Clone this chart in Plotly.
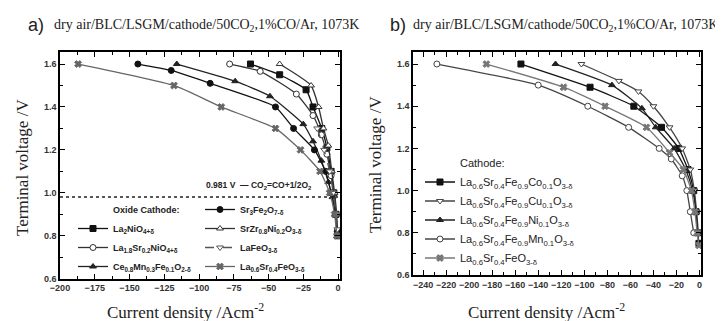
import plotly.graph_objects as go

# The page body has an 8px margin, so the figure is drawn at (8, 8)
OFF = 8
W, H = 723 - OFF, 321 - OFF
def px(x): return (x - OFF) / W
def py(y): return 1 - (y - OFF) / H

# ---------------- Panel a data ----------------
a_La2NiO4_x = [-63, -42, -23, -18, -11.7, -8, -5, -3, -1.5, -0.5]
a_La2NiO4_y = [1.60, 1.55, 1.48, 1.40, 1.30, 1.21, 1.10, 1.00, 0.90, 0.80]
a_La18Sr02_x = [-78, -56, -30, -18, -12, -8, -5, -3, -1.5, -0.5]
a_La18Sr02_y = [1.60, 1.566, 1.46, 1.36, 1.27, 1.18, 1.08, 1.00, 0.90, 0.82]
a_Ce_x = [-116, -74, -49, -25, -18, -12, -7, -4, -2, -0.5]
a_Ce_y = [1.60, 1.52, 1.45, 1.32, 1.24, 1.15, 1.05, 0.98, 0.90, 0.80]
a_Sr3Fe2O7_x = [-144, -120, -92, -45, -32, -17, -9, -5, -2, -0.5]
a_Sr3Fe2O7_y = [1.60, 1.57, 1.51, 1.40, 1.30, 1.20, 1.10, 1.00, 0.90, 0.82]
a_SrZr_x = [-42, -19.4, -14, -10.5, -7, -4.5, -2.5, -1, -0.3]
a_SrZr_y = [1.60, 1.50, 1.40, 1.30, 1.22, 1.10, 1.00, 0.90, 0.80]
a_LaFeO3_x = [-15, -10, -6, -3.5, -1.5, -0.5]
a_LaFeO3_y = [1.30, 1.20, 1.10, 1.00, 0.90, 0.83]
a_LSF_x = [-187, -118, -84, -45, -27, -13, -6, -2.5, -0.8]
a_LSF_y = [1.60, 1.50, 1.40, 1.30, 1.20, 1.10, 1.00, 0.90, 0.80]
a_ref_voltage = 0.981

# ---------------- Panel b data ----------------
b_Co_x = [-155, -95, -57, -33, -18, -10, -5, -3, -1.5, -0.5]
b_Co_y = [1.60, 1.49, 1.40, 1.30, 1.20, 1.10, 1.00, 0.90, 0.80, 0.75]
b_Cu_x = [-102.5, -70, -53, -40, -26, -15, -8, -4.5, -2.5, -1]
b_Cu_y = [1.60, 1.52, 1.47, 1.40, 1.30, 1.20, 1.10, 1.00, 0.90, 0.80]
b_Ni_x = [-125, -76, -50, -38, -22, -12, -6, -3, -1.5]
b_Ni_y = [1.60, 1.50, 1.39, 1.30, 1.20, 1.10, 1.00, 0.90, 0.80]
b_Mn_x = [-228, -140, -97, -61.5, -35, -24.5, -15, -11, -8, -5]
b_Mn_y = [1.60, 1.50, 1.40, 1.30, 1.20, 1.15, 1.07, 1.00, 0.90, 0.80]
b_Fe_x = [-185, -118, -82, -46, -26, -14, -7, -4, -2, -0.5]
b_Fe_y = [1.60, 1.49, 1.40, 1.30, 1.18, 1.10, 1.00, 0.90, 0.80, 0.74]

fig = go.Figure()

def add(x, y, name, symbol, color, fill, xa, ya, legend, dash='solid', size=6, lw=1.3):
    fig.add_trace(go.Scatter(
        x=x, y=y, name=name, mode='lines+markers',
        line=dict(color=color, width=lw, dash=dash, shape='spline', smoothing=0.5),
        marker=dict(symbol=symbol, size=size, color=fill, line=dict(color=color, width=1)),
        xaxis=xa, yaxis=ya, legend=legend))

def header(name, xa, ya, legend):
    fig.add_trace(go.Scatter(
        x=[None], y=[None], name=name, mode='markers',
        marker=dict(color='rgba(0,0,0,0)', size=1),
        xaxis=xa, yaxis=ya, legend=legend))

# Panel a traces (legend ordering: left column, then right column)
header('<b>Oxide Cathode:</b>', 'x', 'y', 'legend')
add(a_La2NiO4_x, a_La2NiO4_y, '<b>La<sub>2</sub>NiO<sub>4+δ</sub></b>', 'square', '#111', '#111', 'x', 'y', 'legend')
add(a_La18Sr02_x, a_La18Sr02_y, '<b>La<sub>1.8</sub>Sr<sub>0.2</sub>NiO<sub>4+δ</sub></b>', 'circle', '#333', 'white', 'x', 'y', 'legend')
add(a_Ce_x, a_Ce_y, '<b>Ce<sub>0.8</sub>Mn<sub>0.3</sub>Fe<sub>0.1</sub>O<sub>2-δ</sub></b>', 'triangle-up', '#222', '#222', 'x', 'y', 'legend')
add(a_Sr3Fe2O7_x, a_Sr3Fe2O7_y, '<b>Sr<sub>3</sub>Fe<sub>2</sub>O<sub>7-δ</sub></b>', 'circle', '#111', '#111', 'x', 'y', 'legend2')
add(a_SrZr_x, a_SrZr_y, '<b>SrZr<sub>0.8</sub>Ni<sub>0.2</sub>O<sub>3-δ</sub></b>', 'triangle-up', '#333', 'white', 'x', 'y', 'legend2')
add(a_LaFeO3_x, a_LaFeO3_y, '<b>LaFeO<sub>3-δ</sub></b>', 'triangle-down', '#555', 'white', 'x', 'y', 'legend2', dash='dash')
add(a_LSF_x, a_LSF_y, '<b>La<sub>0.6</sub>Sr<sub>0.4</sub>FeO<sub>3-δ</sub></b>', 'x', '#666', '#666', 'x', 'y', 'legend2')

# Panel b traces
header('Cathode:', 'x2', 'y2', 'legend3')
add(b_Co_x, b_Co_y, 'La<sub>0.6</sub>Sr<sub>0.4</sub>Fe<sub>0.9</sub>Co<sub>0.1</sub>O<sub>3-δ</sub>', 'square', '#111', '#111', 'x2', 'y2', 'legend3')
add(b_Cu_x, b_Cu_y, 'La<sub>0.6</sub>Sr<sub>0.4</sub>Fe<sub>0.9</sub>Cu<sub>0.1</sub>O<sub>3-δ</sub>', 'triangle-down', '#444', 'white', 'x2', 'y2', 'legend3')
add(b_Ni_x, b_Ni_y, 'La<sub>0.6</sub>Sr<sub>0.4</sub>Fe<sub>0.9</sub>Ni<sub>0.1</sub>O<sub>3-δ</sub>', 'triangle-up', '#222', '#222', 'x2', 'y2', 'legend3')
add(b_Mn_x, b_Mn_y, 'La<sub>0.6</sub>Sr<sub>0.4</sub>Fe<sub>0.9</sub>Mn<sub>0.1</sub>O<sub>3-δ</sub>', 'circle', '#444', 'white', 'x2', 'y2', 'legend3')
add(b_Fe_x, b_Fe_y, 'La<sub>0.6</sub>Sr<sub>0.4</sub>FeO<sub>3-δ</sub>', 'x', '#777', '#777', 'x2', 'y2', 'legend3')

tickfont = dict(family='Arial', size=9, color='#333', weight='bold')
axis_common = dict(showline=True, linecolor='black', linewidth=1.5, mirror='ticks',
                   ticks='inside', ticklen=5, tickwidth=1.2, tickcolor='black',
                   showgrid=False, zeroline=False, tickfont=tickfont, automargin=False)

fig.update_layout(
    template='none',
    width=W, height=H, margin=dict(l=0, r=0, t=0, b=0, autoexpand=False),
    paper_bgcolor='white', plot_bgcolor='white',
    xaxis=dict(domain=[px(60), px(340)], range=[-200, 1.4], tick0=0, dtick=25, anchor='y',
               minor=dict(dtick=12.5, ticks='inside', ticklen=3, tickcolor='black'), **axis_common),
    yaxis=dict(domain=[py(278.7), py(52)], range=[0.6, 1.656], tick0=0.6, dtick=0.2, tickformat='.1f', anchor='x',
               minor=dict(dtick=0.1, ticks='inside', ticklen=3, tickcolor='black'), **axis_common),
    xaxis2=dict(domain=[px(413), px(701)], range=[-248.7, 1.3], tick0=0, dtick=20, anchor='y2',
                minor=dict(dtick=10, ticks='inside', ticklen=3, tickcolor='black'), **axis_common),
    yaxis2=dict(domain=[py(275), py(52)], range=[0.6, 1.657], tick0=0.6, dtick=0.2, tickformat='.1f', anchor='x2',
                minor=dict(dtick=0.1, ticks='inside', ticklen=3, tickcolor='black'), **axis_common),
    legend=dict(x=px(73), y=py(195), xanchor='left', yanchor='top', bgcolor='rgba(0,0,0,0)',
                font=dict(family='Arial', size=9, color='#222'), itemwidth=30, tracegroupgap=0),
    legend2=dict(x=px(200), y=py(195), xanchor='left', yanchor='top', bgcolor='rgba(0,0,0,0)',
                 font=dict(family='Arial', size=9, color='#222'), itemwidth=30, tracegroupgap=0),
    legend3=dict(x=px(420), y=py(148.5), xanchor='left', yanchor='top', bgcolor='rgba(0,0,0,0)',
                 font=dict(family='Arial', size=11, color='#222'), itemwidth=30, tracegroupgap=0),
)

# Reference voltage line in panel a
fig.add_shape(type='line', xref='x', yref='y', x0=-200, x1=0, y0=a_ref_voltage, y1=a_ref_voltage,
              line=dict(color='#222', width=1.5, dash='dot'))
fig.add_annotation(xref='x', yref='y', x=-57, y=a_ref_voltage, yshift=4, yanchor='bottom',
                   text='<b>0.981 V  — CO<sub>2</sub>=CO+1/2O<sub>2</sub></b>', showarrow=False,
                   font=dict(family='Arial', size=8.5, color='#222'))

serif = 'Liberation Serif'
title_txt = 'dry air/BLC/LSGM/cathode/50CO<sub>2</sub>,1%CO/Ar, 1073K'
for lab, lx, tx in [('a)', 36, 52), ('b)', 398, 411)]:
    fig.add_annotation(xref='paper', yref='paper', x=px(lx), y=py(25), text=lab, showarrow=False,
                       font=dict(family='Arial', size=18, color='#222'), xanchor='center', yanchor='middle')
    fig.add_annotation(xref='paper', yref='paper', x=px(tx), y=py(25), text=title_txt, showarrow=False,
                       font=dict(family=serif, size=14, color='#222'), xanchor='left', yanchor='middle')

# Axis titles
for cx, cy in [(22, 168), (375, 165)]:
    fig.add_annotation(xref='paper', yref='paper', x=px(cx), y=py(cy), text='Terminal voltage /V',
                       textangle=-90, showarrow=False, font=dict(family=serif, size=17, color='#222'),
                       xanchor='center', yanchor='middle')
for cx, cy in [(185, 311), (546, 311)]:
    fig.add_annotation(xref='paper', yref='paper', x=px(cx), y=py(cy), text='Current density /Acm<sup>-2</sup>',
                       showarrow=False, font=dict(family=serif, size=17, color='#222'),
                       xanchor='center', yanchor='middle')

fig.write_html('out.html')
